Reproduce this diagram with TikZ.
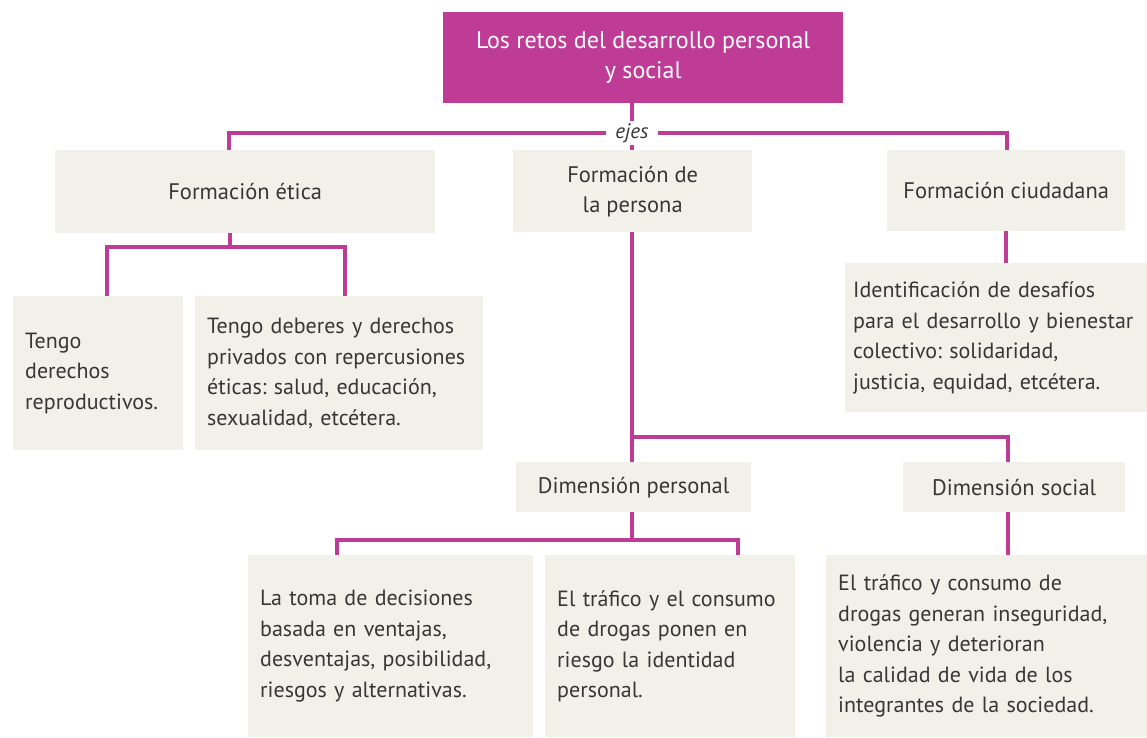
\documentclass[tikz,border=0pt]{standalone}
\usepackage{fontspec}
\setmainfont{PT Sans}
\frenchspacing
\definecolor{mag}{RGB}{190,60,150}
\definecolor{boxbg}{RGB}{241,240,233}
\definecolor{txt}{RGB}{55,55,55}
\begin{document}
\begin{tikzpicture}[x=1pt,y=-1pt,
  conn/.style={draw=mag,line width=4pt},
  hbox/.style={fill=boxbg,anchor=north west,inner sep=0pt,align=center,text=txt,font=\fontsize{22.5}{30}\selectfont},
  tbox/.style={fill=boxbg,anchor=north west,inner xsep=12pt,inner ysep=0pt,align=left,text=txt,font=\fontsize{22}{30.5}\selectfont}]
\useasboundingbox (0,0) rectangle (1147,737);
\fill[white] (0,0) rectangle (1147,737);
% title
\node[anchor=north west,fill=mag,minimum width=400pt,minimum height=91pt,inner sep=0pt,align=center,text=white,font=\fontsize{24}{30}\selectfont] (title) at (443,12) {Los retos del desarrollo personal\\y social};
% level 1
\node[hbox,minimum width=380pt,minimum height=83pt] (fe) at (55,150) {Formación ética};
\node[hbox,minimum width=239pt,minimum height=82pt] (fp) at (513,150) {Formación de\\la persona};
\node[hbox,minimum width=238pt,minimum height=81pt] (fc) at (887,150) {Formación ciudadana};
% ejes
\node[fill=white,inner xsep=9pt,inner ysep=2pt,text=txt,font=\fontsize{21}{22}\selectfont\itshape] (ejes) at (632,133) {ejes};
% level 2
\node[tbox,minimum width=170pt,minimum height=154pt,text width=146pt] (t1) at (13,296) {Tengo\\derechos\\reproductivos.};
\node[tbox,minimum width=288pt,minimum height=154pt,text width=264pt] (t2) at (195,296) {Tengo deberes y derechos\\privados con repercusiones\\éticas: salud, educación,\\sexualidad, etcétera.};
\node[tbox,minimum width=312pt,minimum height=149pt,text width=296pt,inner xsep=8pt] (id) at (845,263) {Identificación de desafíos\\para el desarrollo y bienestar\\colectivo: solidaridad,\\justicia, equidad, etcétera.};
\node[hbox,minimum width=235pt,minimum height=50pt] (dp) at (516,462) {Dimensión personal};
\node[hbox,minimum width=222pt,minimum height=50pt] (ds) at (903,462) {Dimensión social};
\node[tbox,minimum width=285pt,minimum height=182pt,text width=261pt] (b1) at (248,555) {La toma de decisiones\\basada en ventajas,\\desventajas, posibilidad,\\riesgos y alternativas.};
\node[tbox,minimum width=250pt,minimum height=182pt,text width=226pt] (b2) at (545,555) {El tráfico y el consumo\\de drogas ponen en\\riesgo la identidad\\personal.};
\node[tbox,minimum width=321pt,minimum height=182pt,text width=297pt] (b3) at (826,555) {El tráfico y consumo de\\drogas generan inseguridad,\\violencia y deterioran\\la calidad de vida de los\\integrantes de la sociedad.};
% coordinates
\coordinate (tBot) at (632,103);
\coordinate (fpTop) at (632,150);
\coordinate (feTop) at (229,150);
\coordinate (fcTop) at (1007,150);
\coordinate (feBot) at (230,233);
\coordinate (t1Top) at (107,296);
\coordinate (t2Top) at (345,296);
\coordinate (fcBot) at (1006,231);
\coordinate (idTop) at (1006,263);
\coordinate (fpBot) at (632,232);
\coordinate (fpJ) at (632,437);
\coordinate (dpTop) at (632,462);
\coordinate (dsTop) at (1008,462);
\coordinate (dpBot) at (632,512);
\coordinate (b1Top) at (337,555);
\coordinate (b2Top) at (738,555);
\coordinate (dsBot) at (1008,512);
\coordinate (b3Top) at (1008,555);
% connectors
\draw[conn] (tBot) -- (ejes.north);
\draw[conn] (ejes.south) -- (fpTop);
\draw[conn] (ejes.west) -| (feTop);
\draw[conn] (ejes.east) -| (fcTop);
\draw[conn] (feBot) -- ++(0,14) -| (t1Top);
\draw[conn] (feBot) ++(0,14) -| (t2Top);
\draw[conn] (fcBot) -- (idTop);
\draw[conn] (fpBot) -- (fpJ) -- (dpTop);
\draw[conn] (fpJ) -| (dsTop);
\draw[conn] (dpBot) -- ++(0,28) -| (b1Top);
\draw[conn] (dpBot) ++(0,28) -| (b2Top);
\draw[conn] (dsBot) -- (b3Top);
\end{tikzpicture}
\end{document}
